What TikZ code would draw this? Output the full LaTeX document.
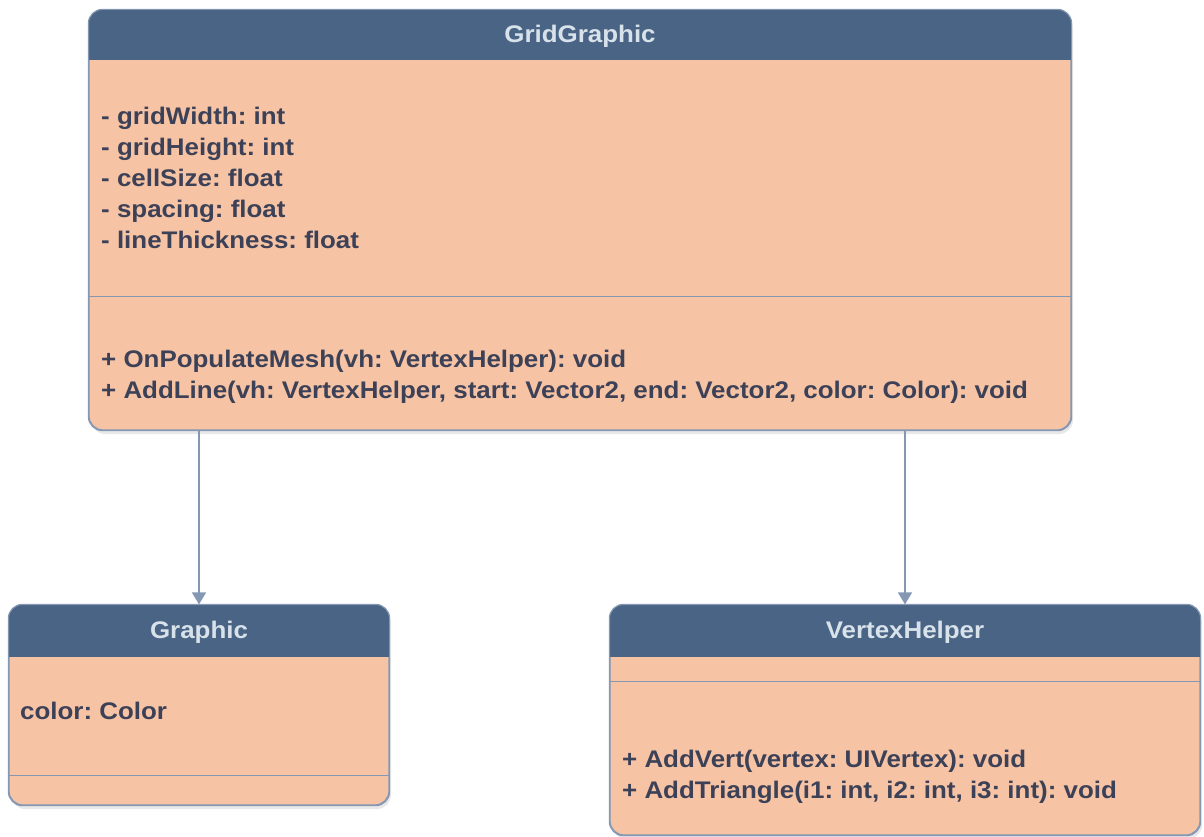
\documentclass[tikz,border=0pt]{standalone}
\usepackage{fontspec}
\setmainfont[FakeStretch=1.08]{Liberation Sans}
\usepackage{xcolor}
\definecolor{slate}{HTML}{4A6485}
\definecolor{peach}{HTML}{F6C3A4}
\definecolor{rim}{HTML}{8497B3}
\definecolor{inkgray}{HTML}{3C4157}
\definecolor{mist}{HTML}{D8E2EA}
\usetikzlibrary{positioning,arrows.meta,calc,shadows}
\tikzset{
  classbox/.style={draw=rim, line width=1.2pt, fill=peach, rounded corners=14pt, inner sep=0pt,
    drop shadow={opacity=0.18, shadow xshift=2pt, shadow yshift=-4pt}},
  classname/.style={font=\fontsize{24}{28}\selectfont\bfseries\frenchspacing, text=mist, inner sep=0pt},
  member/.style={font=\fontsize{24}{31}\selectfont\bfseries\frenchspacing, text=inkgray, align=left, inner sep=0pt, anchor=north west},
  divider/.style={draw=rim, line width=1.2pt},
  edge/.style={-{Triangle[length=12pt,width=14pt]}, rim, line width=1.5pt},
}
\begin{document}
\begin{tikzpicture}[x=1pt, y=-1pt]
  \useasboundingbox (0,0) rectangle (1204,837);
  \node[classbox, minimum width=982pt, minimum height=420pt] (grid) at (580,220) {};
  \node[classbox, minimum width=380pt, minimum height=200pt] (gfx) at (199,705) {};
  \node[classbox, minimum width=590pt, minimum height=230pt] (vh) at (905,720) {};
  \foreach \b/\h in {grid/51, gfx/53, vh/53} {
    \begin{scope}
      \clip[rounded corners=14pt] (\b.north west) rectangle (\b.south east);
      \fill[slate] (\b.north west) rectangle ([yshift=-\h pt]\b.north east);
    \end{scope}
    \draw[rim, line width=1.2pt, rounded corners=14pt] (\b.north west) rectangle (\b.south east);
  }
  \draw[divider] ([yshift=-287pt]grid.north west) -- ([yshift=-287pt]grid.north east);
  \draw[divider] ([yshift=-171pt]gfx.north west) -- ([yshift=-171pt]gfx.north east);
  \draw[divider] ([yshift=-77pt]vh.north west) -- ([yshift=-77pt]vh.north east);
  \node[classname] (gridname) at (580,36) {GridGraphic};
  \node[classname] (gfxname) at (199,632) {Graphic};
  \node[classname] (vhname) at (905,632) {VertexHelper};
  \node[member] (gridattr) at (101,107) {- gridWidth: int\\- gridHeight: int\\- cellSize: float\\- spacing: float\\- lineThickness: float};
  \node[member] (gridops) at (101,350) {+ OnPopulateMesh(vh: VertexHelper): void\\+ AddLine(vh: VertexHelper, start: Vector2, end: Vector2, color: Color): void};
  \node[member] (gfxattr) at (20,702) {color: Color};
  \node[member] (vhops) at (622,750) {+ AddVert(vertex: UIVertex): void\\+ AddTriangle(i1: int, i2: int, i3: int): void};
  \draw[edge] (grid.south -| gfx.north) -- (gfx.north);
  \draw[edge] (grid.south -| vh.north) -- (vh.north);
\end{tikzpicture}
\end{document}
